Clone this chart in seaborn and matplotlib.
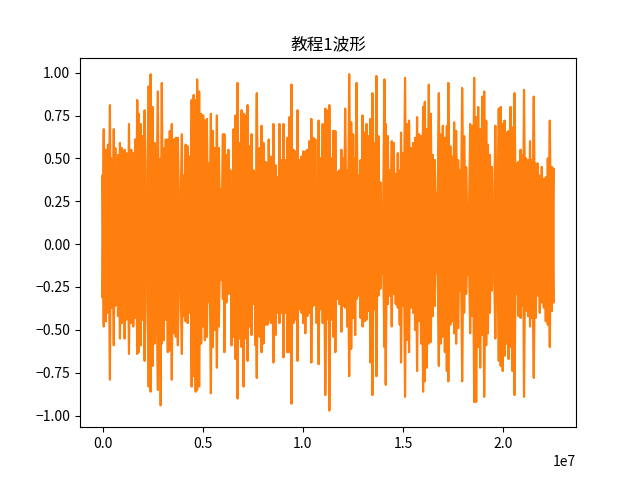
import numpy as np
import matplotlib
matplotlib.use("Agg")
import matplotlib.pyplot as plt
import seaborn as sns

plt.rcParams['font.family'] = ['Noto Sans CJK SC', 'DejaVu Sans']

# =========================
# envolvente (posicion en unidades de 1e7 muestras)
# =========================

pos = [0.000, 0.006, 0.017, 0.027, 0.037, 0.044, 0.056, 0.064, 0.077, 0.087,
       0.097, 0.110, 0.120, 0.132, 0.143, 0.153, 0.163, 0.173, 0.180, 0.190,
       0.200, 0.210, 0.230, 0.240, 0.250, 0.260, 0.276, 0.290, 0.296, 0.306,
       0.316, 0.326, 0.336, 0.346, 0.356, 0.366, 0.376, 0.396, 0.405, 0.415,
       0.425, 0.435, 0.445, 0.455, 0.465, 0.472, 0.482, 0.492, 0.502, 0.511,
       0.521, 0.531, 0.541, 0.551, 0.561, 0.571, 0.581, 0.591, 0.601, 0.608,
       0.618, 0.628, 0.638, 0.644, 0.654, 0.664, 0.674, 0.684, 0.694, 0.704,
       0.714, 0.724, 0.734, 0.744, 0.754, 0.764, 0.770, 0.784, 0.794, 0.803,
       0.813, 0.823, 0.830, 0.840, 0.853, 0.863, 0.873, 0.883, 0.893, 0.903,
       0.913, 0.923, 0.933, 0.943, 0.953, 0.963, 0.973, 0.983, 0.993, 1.002,
       1.012, 1.022, 1.032, 1.042, 1.052, 1.062, 1.069, 1.079, 1.089, 1.099,
       1.112, 1.119, 1.125, 1.132, 1.142, 1.152, 1.162, 1.172, 1.182, 1.192,
       1.201, 1.211, 1.221, 1.231, 1.241, 1.251, 1.261, 1.268, 1.278, 1.288,
       1.298, 1.308, 1.318, 1.328, 1.337, 1.347, 1.357, 1.367, 1.377, 1.387,
       1.397, 1.407, 1.414, 1.424, 1.434, 1.444, 1.454, 1.464, 1.474, 1.484,
       1.490, 1.500, 1.510, 1.520, 1.530, 1.540, 1.550, 1.560, 1.570, 1.580,
       1.590, 1.600, 1.609, 1.619, 1.629, 1.639, 1.649, 1.659, 1.669, 1.679,
       1.689, 1.699, 1.709, 1.719, 1.726, 1.736, 1.746, 1.755, 1.765, 1.775,
       1.785, 1.795, 1.805, 1.815, 1.825, 1.835, 1.845, 1.855, 1.865, 1.875,
       1.885, 1.895, 1.905, 1.915, 1.924, 1.934, 1.944, 1.951, 1.961, 1.978,
       1.988, 1.998, 2.007, 2.017, 2.027, 2.037, 2.047, 2.057, 2.067, 2.077,
       2.087, 2.097, 2.104, 2.114, 2.124, 2.134, 2.143, 2.153, 2.163, 2.173,
       2.183, 2.193, 2.203, 2.213, 2.223, 2.233, 2.243, 2.251]

upper = [0.40, 0.67, 0.55, 0.58, 0.81, 0.50, 0.67, 0.56, 0.52, 0.59,
         0.56, 0.55, 0.53, 0.70, 0.55, 0.53, 0.61, 0.84, 0.76, 0.70,
         0.63, 0.78, 0.92, 0.99, 0.80, 0.59, 0.89, 0.50, 0.94, 0.56,
         0.61, 0.61, 0.66, 0.70, 0.61, 0.62, 0.62, 0.64, 0.40, 0.58,
         0.57, 0.51, 0.84, 0.87, 0.84, 0.96, 0.89, 0.76, 0.75, 0.72,
         0.73, 0.47, 0.76, 0.66, 0.56, 0.75, 0.56, 0.32, 0.64, 0.64,
         0.52, 0.55, 0.43, 0.33, 0.67, 0.75, 0.94, 0.59, 0.78, 0.76,
         0.75, 0.81, 0.57, 0.64, 0.43, 0.41, 0.88, 0.56, 0.69, 0.59,
         0.48, 0.47, 0.61, 0.51, 0.70, 0.46, 0.39, 0.70, 0.49, 0.70,
         0.49, 0.62, 0.74, 0.93, 0.55, 0.54, 0.78, 0.49, 0.51, 0.54,
         0.54, 0.55, 0.60, 0.73, 0.62, 0.61, 0.35, 0.72, 0.50, 0.70,
         0.79, 0.78, 0.29, 0.81, 0.50, 0.66, 0.66, 0.42, 0.43, 0.55,
         0.50, 0.79, 0.43, 0.99, 0.71, 0.64, 0.50, 0.94, 0.40, 0.49,
         0.75, 0.65, 0.70, 0.63, 0.73, 0.88, 0.59, 0.98, 0.63, 0.36,
         0.16, 0.96, 0.70, 0.63, 0.43, 0.60, 0.59, 0.41, 0.53, 0.43,
         0.65, 0.53, 0.97, 0.70, 0.72, 0.56, 0.59, 0.62, 0.74, 0.64,
         0.63, 0.80, 0.83, 0.67, 0.93, 0.76, 0.52, 0.49, 0.30, 0.88,
         0.64, 0.69, 0.62, 0.69, 0.94, 0.57, 0.51, 0.71, 0.66, 0.49,
         0.43, 0.91, 0.63, 0.45, 0.23, 0.70, 0.69, 0.97, 0.74, 0.80,
         0.67, 0.86, 0.89, 0.72, 0.58, 0.52, 0.45, 0.03, 0.69, 0.79,
         0.80, 0.70, 0.72, 0.65, 0.66, 0.80, 0.68, 0.88, 0.47, 0.48,
         0.55, 0.52, 0.90, 0.50, 0.49, 0.60, 0.49, 0.86, 0.47, 0.47,
         0.40, 0.45, 0.38, 0.39, 0.50, 0.72, 0.45, 0.44]

lower = [-0.31, -0.48, -0.45, -0.40, -0.79, -0.37, -0.59, -0.36, -0.42, -0.55,
         -0.46, -0.55, -0.44, -0.64, -0.46, -0.48, -0.43, -0.64, -0.63, -0.59,
         -0.44, -0.68, -0.83, -0.86, -0.71, -0.58, -0.85, -0.94, -0.58, -0.56,
         -0.44, -0.63, -0.62, -0.79, -0.52, -0.54, -0.59, -0.64, -0.42, -0.45,
         -0.46, -0.40, -0.83, -0.77, -0.86, -0.85, -0.83, -0.58, -0.48, -0.56,
         -0.54, -0.34, -0.87, -0.60, -0.50, -0.72, -0.48, -0.21, -0.32, -0.63,
         -0.34, -0.29, -0.29, -0.59, -0.54, -0.67, -0.90, -0.55, -0.60, -0.83,
         -0.55, -0.68, -0.48, -0.53, -0.35, -0.59, -0.78, -0.54, -0.63, -0.58,
         -0.47, -0.47, -0.44, -0.46, -0.69, -0.53, -0.40, -0.46, -0.40, -0.66,
         -0.40, -0.63, -0.63, -0.93, -0.46, -0.44, -0.68, -0.38, -0.40, -0.46,
         -0.52, -0.42, -0.40, -0.69, -0.36, -0.35, -0.46, -0.70, -0.38, -0.46,
         -0.88, -0.44, -0.29, -0.97, -0.44, -0.54, -0.63, -0.32, -0.35, -0.51,
         -0.36, -0.37, -0.48, -0.77, -0.61, -0.43, -0.53, -0.32, -0.30, -0.43,
         -0.48, -0.45, -0.44, -0.39, -0.69, -0.88, -0.38, -0.77, -0.30, -0.26,
         -0.17, -0.60, -0.82, -0.35, -0.30, -0.48, -0.29, -0.35, -0.37, -0.47,
         -0.69, -0.36, -0.89, -0.56, -0.63, -0.37, -0.40, -0.50, -0.74, -0.45,
         -0.58, -0.86, -0.80, -0.72, -0.58, -0.57, -0.42, -0.36, -0.17, -0.71,
         -0.58, -0.54, -0.63, -0.74, -0.80, -0.47, -0.45, -0.52, -0.58, -0.49,
         -0.27, -0.80, -0.40, -0.29, -0.18, -0.52, -0.42, -0.92, -0.92, -0.60,
         -0.72, -0.53, -0.89, -0.59, -0.52, -0.40, -0.27, -0.02, -0.55, -0.68,
         -0.71, -0.74, -0.65, -0.58, -0.67, -0.60, -0.74, -0.88, -0.29, -0.42,
         -0.43, -0.36, -0.89, -0.39, -0.42, -0.48, -0.43, -0.78, -0.43, -0.30,
         -0.40, -0.34, -0.37, -0.45, -0.47, -0.60, -0.39, -0.34]

# zigzag entre maximo y minimo de cada columna (dos canales, orden cruzado)
muestras = np.repeat(np.array(pos) * 1e7, 2)
canal1 = np.column_stack([lower, upper]).ravel()
canal2 = np.column_stack([upper, lower]).ravel()

fig, ax = plt.subplots(figsize=(6.4, 4.8), dpi=100)

sns.lineplot(x=muestras, y=canal1, estimator=None, sort=False,
             color="#ff7f0e", linewidth=1.5, ax=ax)
sns.lineplot(x=muestras, y=canal2, estimator=None, sort=False,
             color="#ff7f0e", linewidth=1.5, ax=ax)

ax.set_title("教程1波形")
ax.set_xlabel("")
ax.set_ylabel("")

plt.savefig("out.png")
